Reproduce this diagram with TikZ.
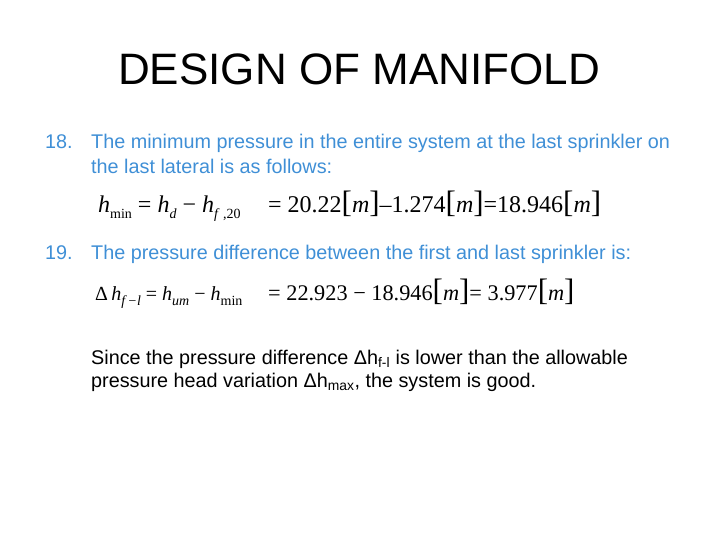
\documentclass[tikz,border=0pt]{standalone}
\usepackage{fontspec}
\setmainfont{Liberation Sans}
\newfontfamily\eqf{Liberation Serif}
\newcommand{\brm}{{\fontsize{31}{31}\selectfont[}\textit{m}{\fontsize{31}{31}\selectfont]}}
\newcommand{\sbs}[1]{\raisebox{-0.25em}{\fontsize{14}{14}\selectfont #1}}
\definecolor{itemblue}{HTML}{3F8FD6}
\begin{document}
\begin{tikzpicture}[x=1pt,y=-1pt,
  body/.style={anchor=base west,inner sep=0,font=\fontsize{19.8}{23}\selectfont,text=itemblue},
  eq/.style={anchor=base west,inner sep=0,font=\eqf\fontsize{24}{24}\selectfont},
  note/.style={anchor=base west,inner sep=0,font=\fontsize{19.8}{23}\selectfont,align=left}]
\useasboundingbox (0,0) rectangle (720,540);
\node[anchor=base,inner sep=0,font=\fontsize{44}{44}\selectfont] (title) at (359,85) {DESIGN OF MANIFOLD};
\node[body] (n18) at (45,149) {18.};
\node[body] (t18a) at (91,149) {The minimum pressure in the entire system at the last sprinkler on};
\node[body] (t18b) at (91,174) {the last lateral is as follows:};
\node[eq] (e1a) at (98,212) {\textit{h}\sbs{min} = \textit{h}\sbs{\textit{d}} − \textit{h}\sbs{\textit{f} ,20}};
\node[eq] (e1b) at (268,212) {= 20.22\brm–1.274\brm=18.946\brm};
\node[body] (n19) at (45,259) {19.};
\node[body] (t19) at (91,259) {The pressure difference between the first and last sprinkler is:};
\node[eq,font=\eqf\fontsize{20}{20}\selectfont] (e2a) at (95,300) {Δ\,\textit{h}\sbs{\textit{f\,−l}} = \textit{h}\sbs{\textit{um}} − \textit{h}\sbs{min}};
\node[eq,font=\eqf\fontsize{22.3}{22}\selectfont] (e2b) at (268,300) {= 22.923 − 18.946\brm= 3.977\brm};
\node[note] (c1) at (91,364) {Since the pressure difference Δh\textsubscript{f-l} is lower than the allowable};
\node[note] (c2) at (91,387) {pressure head variation Δh\textsubscript{max}, the system is good.};
\end{tikzpicture}
\end{document}
